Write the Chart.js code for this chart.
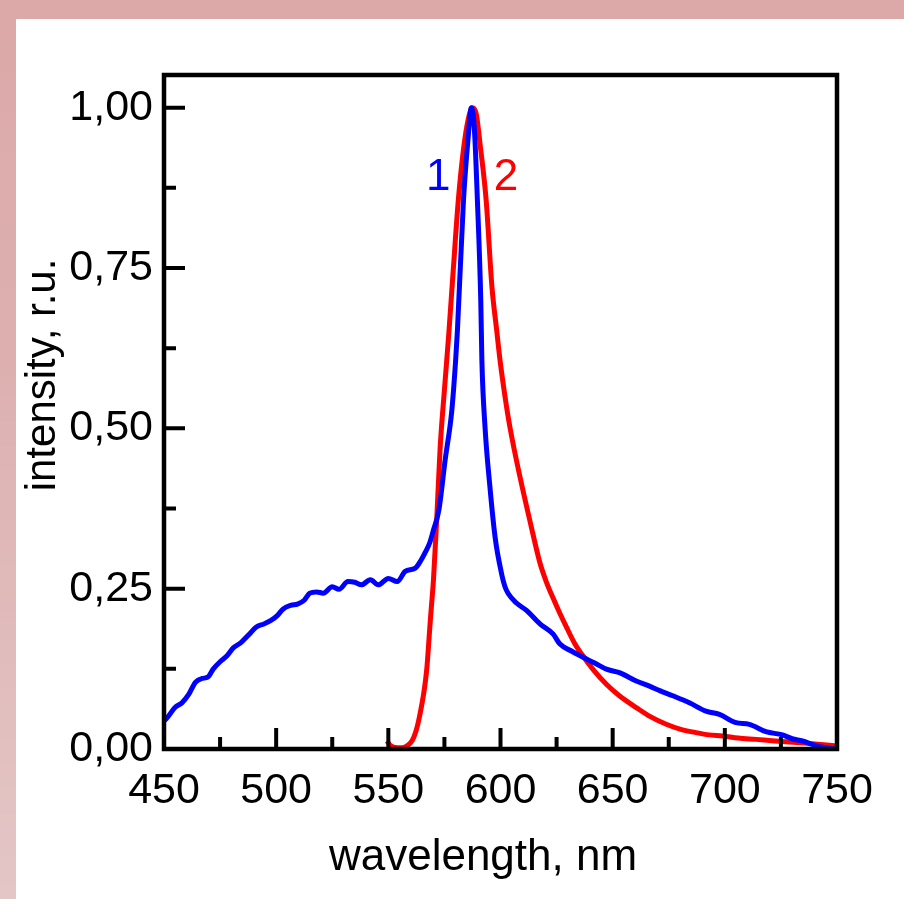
<!DOCTYPE html>
<html>
<head>
<meta charset="utf-8">
<script src="https://cdn.jsdelivr.net/npm/chart.js@4/dist/chart.umd.min.js"></script>
<style>
  html, body { margin: 0; padding: 0; }
  body {
    width: 904px; height: 899px; overflow: hidden; position: relative;
    background: linear-gradient(180deg, #dca8a8 0%, #ddb0b0 40%, #e4c6c6 100%);
  }
  #panel {
    position: absolute; left: 16px; top: 19px; width: 888px; height: 880px;
    background: #ffffff;
  }
</style>
</head>
<body>
<div id="panel"><canvas id="spectrum" width="888" height="880"></canvas></div>
<script>
// curve 1 (blue)
const blueWavelength = [450, 451, 455, 458, 461, 464, 467, 469.5, 472, 475, 478, 481, 484, 488, 491, 494.5,
  497.5, 500.5, 503, 506.5, 509.5, 512.5, 515, 518, 521, 525, 528, 532, 535, 538, 542, 545.5, 550, 554,
  557.5, 562, 564.5, 566.5, 568.5, 570, 572.5, 575.3, 578.3, 580, 580.8, 583.5, 585.5, 587, 588.3, 589.7,
  591.2, 591.7, 593.1, 595.3, 597.6, 600.5, 602, 603.5, 607, 611.6, 617.6, 623.5, 626.4, 632, 636.8, 642,
  647.2, 653, 660.5, 666.4, 671, 676.8, 684.2, 691.6, 697.6, 705, 710.9, 718.3, 725.7, 730, 734.6, 740,
  745, 750];
const blueIntensity = [0.044, 0.047, 0.065, 0.072, 0.085, 0.104, 0.110, 0.112, 0.125, 0.136, 0.145, 0.158,
  0.165, 0.179, 0.190, 0.195, 0.200, 0.208, 0.218, 0.224, 0.226, 0.232, 0.243, 0.245, 0.243, 0.253, 0.249,
  0.261, 0.260, 0.256, 0.264, 0.256, 0.266, 0.261, 0.277, 0.282, 0.294, 0.307, 0.322, 0.340, 0.372, 0.45,
  0.528, 0.606, 0.653, 0.856, 0.95, 1.0, 0.97, 0.856, 0.70, 0.606, 0.502, 0.408, 0.33, 0.273, 0.253, 0.242,
  0.228, 0.216, 0.195, 0.179, 0.164, 0.152, 0.143, 0.134, 0.1245, 0.119, 0.106, 0.098, 0.091, 0.083, 0.072,
  0.059, 0.054, 0.041, 0.0385, 0.027, 0.022, 0.016, 0.0125, 0.006, 0.002, 0.0];

// curve 2 (red)
const redWavelength = [549.4, 551, 553.9, 556, 558.3, 560, 561.3, 562.5, 563.5, 564.7, 565.7, 566.5, 567.2,
  567.9, 568.7, 569.5, 570.1, 571.6, 573.1, 575, 577, 579, 581.2, 583.5, 585.5, 587.5, 589.2, 591, 593.6,
  596.2, 598.3, 599.8, 602, 604.2, 608.7, 613.1, 617.6, 620.5, 623.5, 626.4, 629.4, 633, 636.8, 641.5,
  647.2, 653, 660.5, 667, 673.9, 680, 687.2, 693, 699, 706, 713.9, 721, 728.7, 740, 750];
const redIntensity = [0.0125, 0.005, 0.002, 0.002, 0.005, 0.010, 0.018, 0.030, 0.044, 0.065, 0.085, 0.105,
  0.127, 0.160, 0.200, 0.235, 0.2625, 0.36, 0.47, 0.56, 0.65, 0.75, 0.856, 0.935, 0.98, 1.0, 0.99, 0.94,
  0.856, 0.72, 0.653, 0.606, 0.55, 0.502, 0.424, 0.356, 0.290, 0.260, 0.235, 0.212, 0.19, 0.165, 0.145,
  0.123, 0.101, 0.083, 0.0646, 0.050, 0.0385, 0.031, 0.0255, 0.022, 0.0203, 0.017, 0.015, 0.013, 0.011,
  0.008, 0.0047];

const xTicks = [450, 500, 550, 600, 650, 700, 750];
const xMinorTicks = [475, 525, 575, 625, 675, 725];
const yTicks = [0, 0.25, 0.5, 0.75, 1.0];
const yMinorTicks = [0.125, 0.375, 0.625, 0.875];

const xTitle = 'wavelength, nm';
const yTitle = 'intensity, r.u.';

// curve labels, in data coordinates
const curveLabels = [
  { text: '1', x: 572.2, y: 0.872, color: '#0000ff' },
  { text: '2', x: 602.4, y: 0.872, color: '#ff0000' }
];

const sans = '"Liberation Sans", Arial, sans-serif';

function toPoints(xs, ys) {
  return xs.map((x, i) => ({ x: x, y: ys[i] }));
}

// frame with inward ticks, axis titles and curve numbers
const framePlugin = {
  id: 'frame',
  afterDatasetsDraw(chart) {
    const ctx = chart.ctx;
    const a = chart.chartArea;
    const xs = chart.scales.x, ys = chart.scales.y;
    ctx.save();
    ctx.strokeStyle = '#000';
    ctx.lineWidth = 4;
    ctx.lineCap = 'butt';
    ctx.beginPath();
    xTicks.forEach(v => { const p = xs.getPixelForValue(v); ctx.moveTo(p, a.bottom); ctx.lineTo(p, a.bottom - 21); });
    xMinorTicks.forEach(v => { const p = xs.getPixelForValue(v); ctx.moveTo(p, a.bottom); ctx.lineTo(p, a.bottom - 12); });
    yTicks.forEach(v => { const p = ys.getPixelForValue(v); ctx.moveTo(a.left, p); ctx.lineTo(a.left + 21, p); });
    yMinorTicks.forEach(v => { const p = ys.getPixelForValue(v); ctx.moveTo(a.left, p); ctx.lineTo(a.left + 12, p); });
    ctx.stroke();
    ctx.lineWidth = 4.5;
    ctx.lineJoin = 'miter';
    ctx.strokeRect(a.left, a.top, a.right - a.left, a.bottom - a.top);

    ctx.font = '44px ' + sans;
    ctx.textAlign = 'center';
    ctx.textBaseline = 'alphabetic';
    curveLabels.forEach(l => {
      ctx.fillStyle = l.color;
      ctx.fillText(l.text, xs.getPixelForValue(l.x), ys.getPixelForValue(l.y));
    });

    // axis titles
    ctx.fillStyle = '#000';
    ctx.font = '44px ' + sans;
    ctx.fillText(xTitle, 467, 851);
    ctx.translate(39, 356);
    ctx.rotate(-Math.PI / 2);
    ctx.font = '42px ' + sans;
    ctx.fillText(yTitle, 0, 0);
    ctx.restore();
  }
};

new Chart(document.getElementById('spectrum'), {
  type: 'line',
  data: {
    datasets: [{
      label: '1',
      data: toPoints(blueWavelength, blueIntensity),
      borderColor: '#0000ff',
      borderWidth: 5,
      pointRadius: 0,
      cubicInterpolationMode: 'monotone',
      fill: false
    }, {
      label: '2',
      data: toPoints(redWavelength, redIntensity),
      borderColor: '#ff0000',
      borderWidth: 5,
      pointRadius: 0,
      cubicInterpolationMode: 'monotone',
      fill: false
    }]
  },
  options: {
    responsive: false,
    animation: false,
    layout: { padding: { left: 0, top: 56, right: 67, bottom: 0 } },
    plugins: { legend: { display: false }, tooltip: { enabled: false } },
    scales: {
      x: {
        type: 'linear',
        min: 450,
        max: 750,
        afterFit(scale) { scale.height = 150; },
        afterBuildTicks(scale) { scale.ticks = xTicks.map(v => ({ value: v })); },
        grid: { display: false, drawTicks: false },
        border: { display: false },
        ticks: {
          padding: 16,
          maxRotation: 0,
          color: '#000',
          font: { family: sans, size: 43 }
        }
      },
      y: {
        min: 0,
        max: 1.051,
        afterFit(scale) { scale.width = 148; },
        afterBuildTicks(scale) { scale.ticks = yTicks.map(v => ({ value: v })); },
        grid: { display: false, drawTicks: false },
        border: { display: false },
        ticks: {
          padding: 11,
          color: '#000',
          font: { family: sans, size: 43 },
          callback: v => v.toFixed(2).replace('.', ',')
        }
      }
    }
  },
  plugins: [framePlugin]
});
</script>
</body>
</html>
